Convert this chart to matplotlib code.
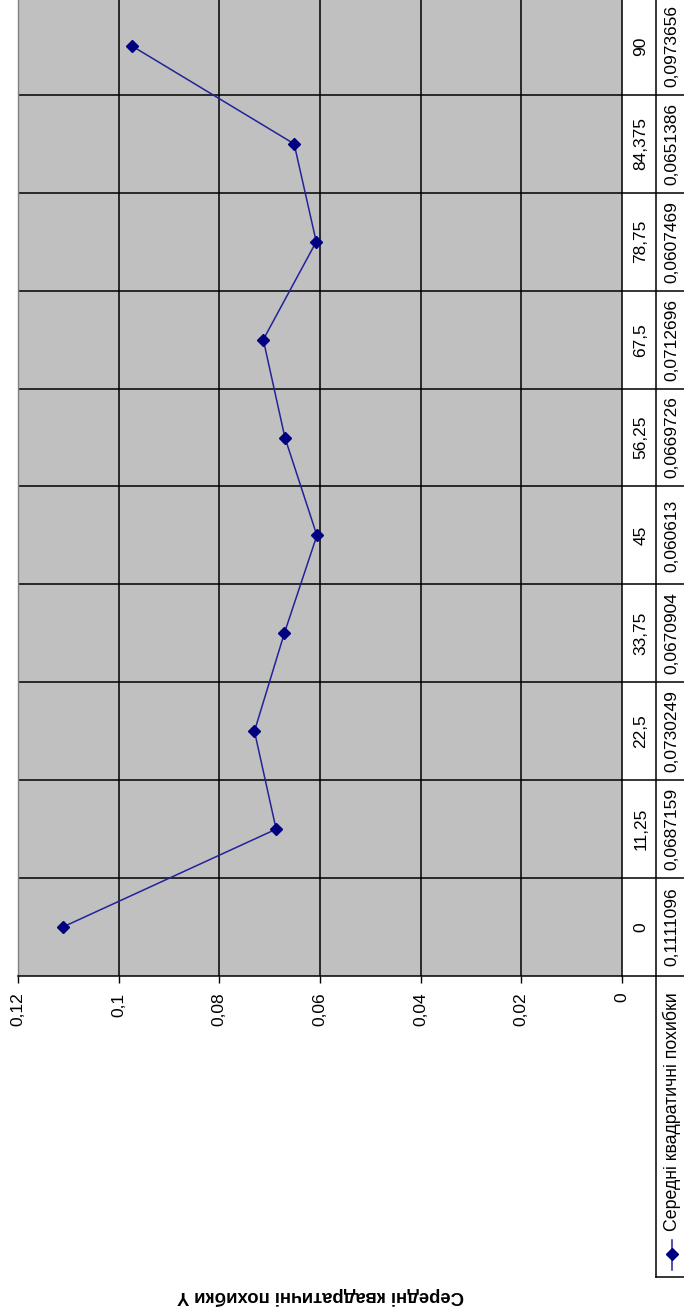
import matplotlib
matplotlib.use('Agg')
import matplotlib.pyplot as plt
from matplotlib.lines import Line2D
from matplotlib.transforms import blended_transform_factory

# ---- data ----
categories = ["0", "11,25", "22,5", "33,75", "45", "56,25", "67,5", "78,75", "84,375", "90"]
values = [0.1111096, 0.0687159, 0.0730249, 0.0670904, 0.060613,
          0.0669726, 0.0712696, 0.0607469, 0.0651386, 0.0973656]
value_labels = ["0,1111096", "0,0687159", "0,0730249", "0,0670904", "0,060613",
                "0,0669726", "0,0712696", "0,0607469", "0,0651386", "0,0973656"]
value_ticks = [0, 0.02, 0.04, 0.06, 0.08, 0.1, 0.12]
value_tick_labels = ["0", "0,02", "0,04", "0,06", "0,08", "0,1", "0,12"]
series_name = "Середні квадратичні похибки"
axis_title = "Середні квадратичні похибки Y"

plt.rcParams['font.family'] = ['Liberation Sans', 'DejaVu Sans']

W, H = 684, 1308
fig = plt.figure(figsize=(W / 100, H / 100), dpi=100)


def fx(px):
    return px / W


def fy(py):
    return 1 - py / H


LINE_C = '#22229a'
MARK_C = '#000080'

PL, PR, PT, PB = 18, 622, -3, 976
ax = fig.add_axes([fx(PL), fy(PB), fx(PR) - fx(PL), fy(PT) - fy(PB)])
ax.set_facecolor('#c0c0c0')
ypos = list(range(len(categories)))
ax.plot(values, ypos, color=LINE_C, lw=1.1, marker='D', ms=6.5,
        markeredgecolor=MARK_C, markerfacecolor=MARK_C, zorder=4)
ax.set_xlim(value_ticks[-1], value_ticks[0])
ax.set_ylim(-0.5, len(categories) - 0.5)
ax.set_xticks(value_ticks)
ax.set_xticklabels(value_tick_labels, rotation=90, fontsize=12.5)
ax.tick_params(axis='x', direction='out', length=5, width=1, color='black', pad=7)
ax.set_yticks([])

for t in value_ticks[1:-1]:
    ax.axvline(t, color='black', lw=1.1, zorder=2)
for i in range(1, len(categories)):
    ax.axhline(i - 0.5, color='black', lw=1.1, zorder=2)

ax.spines['top'].set_visible(False)
ax.spines['left'].set_color('#808080')
ax.spines['left'].set_linewidth(1.0)
ax.spines['bottom'].set_color('black')
ax.spines['bottom'].set_linewidth(1.1)
ax.spines['right'].set_color('black')
ax.spines['right'].set_linewidth(1.1)

# ---- data table (rotated) ----
T = blended_transform_factory(fig.transFigure, ax.transData)
C1, C2 = 622, 656
for i in range(1, len(categories)):
    fig.add_artist(Line2D([fx(C1), 1.0], [i - 0.5, i - 0.5], transform=T,
                          color='black', lw=1.1))
fig.add_artist(Line2D([fx(C2), fx(C2)], [fy(PT), fy(1277)], transform=fig.transFigure,
                      color='black', lw=1.1))
fig.add_artist(Line2D([fx(C1), 1.0], [fy(PB), fy(PB)], transform=fig.transFigure,
                      color='black', lw=1.1))
fig.add_artist(Line2D([fx(C2), 1.0], [fy(1277), fy(1277)], transform=fig.transFigure,
                      color='black', lw=1.1))

for i, (c, v) in enumerate(zip(categories, value_labels)):
    ax.text(fx(641), i, c, transform=T, rotation=90, ha='center', va='center',
            fontsize=12.5, clip_on=False)
    ax.text(fx(672), i, v, transform=T, rotation=90, ha='center', va='center',
            fontsize=12.5, clip_on=False)

# legend key in table
fig.add_artist(Line2D([fx(672), fx(672)], [fy(1270), fy(1240)], transform=fig.transFigure,
                      color=LINE_C, lw=1.1))
fig.add_artist(Line2D([fx(672)], [fy(1254)], transform=fig.transFigure,
                      color=MARK_C, marker='D', ms=6.5, lw=0))
fig.text(fx(672), fy(1231), series_name, rotation=90, ha='center', va='bottom',
         fontsize=12.8)

# axis title (upside down)
fig.text(fx(321), fy(1296), axis_title, rotation=180, ha='center', va='center',
         fontsize=13.3, fontweight='bold')

fig.savefig('out.png', dpi=100)
